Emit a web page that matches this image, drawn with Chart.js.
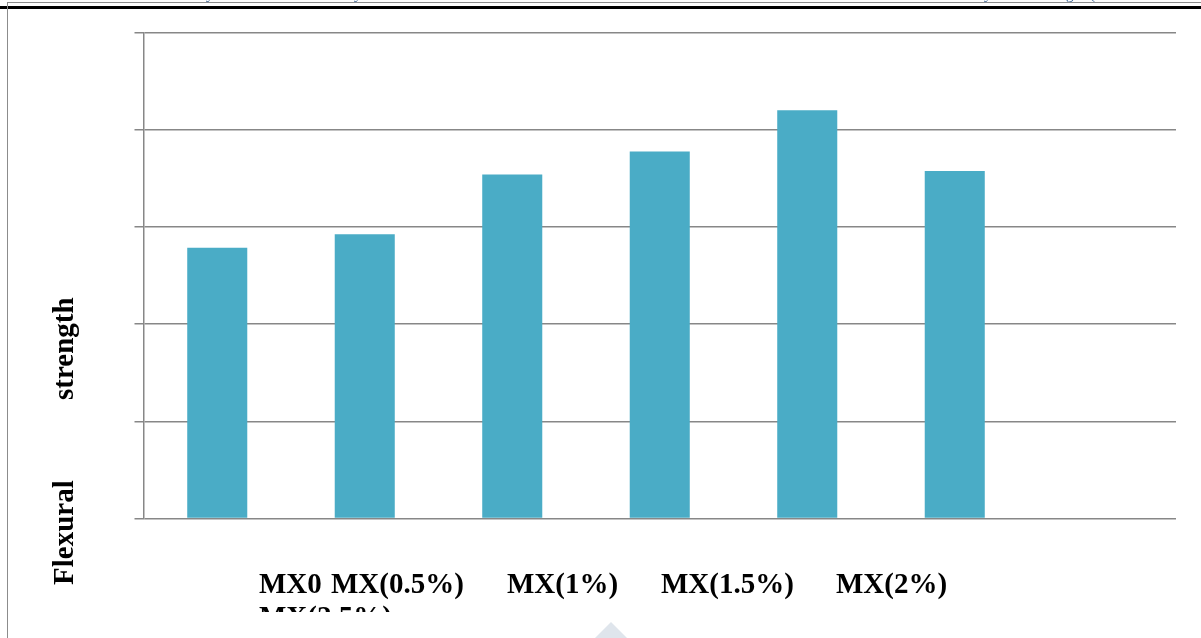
<!DOCTYPE html>
<html>
<head>
<meta charset="utf-8">
<script src="https://cdn.jsdelivr.net/npm/chart.js@4/dist/chart.umd.min.js"></script>
<style>
  html, body { margin: 0; padding: 0; background: #ffffff; overflow: hidden; }
  #c { display: block; }
</style>
</head>
<body>
<canvas id="c" width="1201" height="638"></canvas>
<script>
// Mix designations (the last slot of the category axis is left blank)
const categories = ['MX0', 'MX(0.5%)', 'MX(1%)', 'MX(1.5%)', 'MX(2%)', 'MX(2.5%)', ''];
// Flexural strength of each mix
const flexuralStrength = [5.57, 5.85, 7.08, 7.55, 8.40, 7.15, null];
// Value axis range
const yTicks = [0, 2, 4, 6, 8, 10];
const yTitleWords = ['Flexural', 'strength'];

const SERIF_BOLD = 'bold 29px "Liberation Serif", "Times New Roman", serif';
const GRID = '#878787';

// Page furniture, the category words as laid out in the text box, and the rotated axis title
const pageDecor = {
  id: 'pageDecor',
  afterDraw(chart) {
    const ctx = chart.ctx;
    const W = chart.width, H = chart.height;
    ctx.save();

    // running header fragments (only descenders remain visible)
    ctx.fillStyle = '#365f91';
    ctx.font = '15px "Liberation Serif", serif';
    ctx.textBaseline = 'alphabetic';
    [[206, 'y'], [354, 'y'], [984, 'y'], [1066, 'g'], [1090, '(']].forEach(([x, t]) => ctx.fillText(t, x, -1));

    // thin grey rule and thick black rule at the top
    ctx.fillStyle = '#8c8c8c';
    ctx.fillRect(7, 2, W - 7, 1);
    ctx.fillStyle = '#000000';
    ctx.fillRect(0, 6, W, 3);
    // grey page border on the left
    ctx.fillStyle = '#8c8c8c';
    ctx.fillRect(7, 2, 1, H - 2);

    // category words
    ctx.fillStyle = '#000000';
    ctx.font = SERIF_BOLD;
    ctx.textAlign = 'left';
    ctx.textBaseline = 'alphabetic';
    const firstLine = [[259, 0], [331, 1], [507, 2], [661, 3], [836, 4]];
    firstLine.forEach(([x, i]) => ctx.fillText(categories[i], x, 593));
    ctx.save();
    ctx.beginPath();
    ctx.rect(0, 600, W, 12);
    ctx.clip();
    ctx.fillText(categories[5], 259, 626);
    ctx.restore();

    // rotated y-axis title
    ctx.save();
    ctx.translate(73, 0);
    ctx.rotate(-Math.PI / 2);
    ctx.fillText(yTitleWords[0], -585, 0);
    ctx.fillText(yTitleWords[1], -400, 0);
    ctx.restore();

    // faint chevron at the bottom edge
    ctx.fillStyle = '#dfe5ec';
    ctx.beginPath();
    ctx.moveTo(611, 622);
    ctx.lineTo(627, 638);
    ctx.lineTo(595, 638);
    ctx.closePath();
    ctx.fill();

    ctx.restore();
  }
};

new Chart(document.getElementById('c'), {
  type: 'bar',
  data: {
    labels: categories,
    datasets: [{
      data: flexuralStrength,
      backgroundColor: '#4aacc6',
      borderWidth: 0,
      categoryPercentage: 1.0,
      barPercentage: 0.407
    }]
  },
  options: {
    responsive: false,
    animation: false,
    devicePixelRatio: 1,
    layout: { padding: { left: 134.5, right: 25, top: 32.5, bottom: 119.5 } },
    plugins: {
      legend: { display: false },
      tooltip: { enabled: false },
      title: { display: false }
    },
    scales: {
      x: {
        grid: { display: false, drawTicks: false },
        border: { display: false },
        ticks: { display: false }
      },
      y: {
        min: yTicks[0],
        max: yTicks[yTicks.length - 1],
        afterBuildTicks(scale) { scale.ticks = yTicks.map(v => ({ value: v })); },
        grid: { color: GRID, lineWidth: 1.5, drawTicks: true, tickLength: 9 },
        border: { display: true, color: GRID, width: 1.5 },
        ticks: { display: false }
      }
    }
  },
  plugins: [pageDecor]
});
</script>
</body>
</html>
